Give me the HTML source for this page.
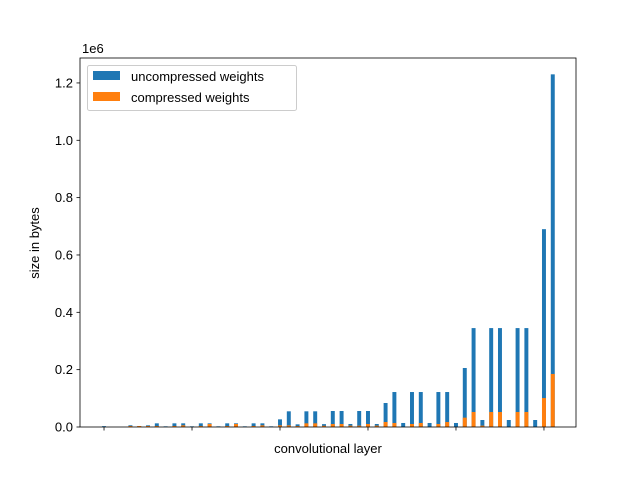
<!DOCTYPE html>
<html><head><meta charset="utf-8"><style>
body{margin:0;background:#fff;}
svg{display:block;font-family:"Liberation Sans","DejaVu Sans",sans-serif;}
</style></head><body>
<svg id="chart" width="640" height="480" viewBox="0 0 640 480">
<g id="bars"></g>
<g id="axes"></g>
<text x="82" y="53" font-size="13">1e6</text>
<text x="328" y="453" font-size="13" text-anchor="middle">convolutional layer</text>
<text transform="translate(39,243) rotate(-90)" font-size="13" text-anchor="middle">size in bytes</text>
<g>
<rect x="87.5" y="65.5" width="209" height="45" rx="2" fill="#fff" fill-opacity="0.8" stroke="#ccc"/>
<rect x="93" y="71" width="27" height="9" fill="#1f77b4"/>
<text x="131" y="81" font-size="13">uncompressed weights</text>
<rect x="93" y="92" width="27" height="9" fill="#ff7f0e"/>
<text x="131" y="102" font-size="13">compressed weights</text>
</g>
</svg>
<script>
const uncompressed = [3000,0,0,6000,3500,5800,12800,2300,12800,12800,2300,12800,12800,2300,12800,12800,2300,12800,12800,2300,26700,54700,9300,54700,54700,10000,55800,55800,10500,55800,55800,10500,83700,122000,14000,122000,122000,14000,122000,122000,14000,205800,345000,24400,345000,345000,24400,345000,345000,24400,690000,1230000];
const compressed = [0,0,0,3500,3500,3500,3500,0,3500,5800,0,3500,10500,0,3500,10500,0,3500,5800,0,5800,5800,3500,12800,12800,4200,10500,10500,4700,4700,10500,4700,17400,14000,0,10500,14000,0,10500,17400,0,32600,52300,4700,52300,52300,0,52300,52300,0,101000,185000];
const yTicks = [0,200000,400000,600000,800000,1000000,1200000];
const yTickLabels = ["0.0","0.2","0.4","0.6","0.8","1.0","1.2"];
const xTicks = [0,10,20,30,40,50];

const L=80,R=576,T=58,B=427;
const xMin=-2.73,xMax=53.64,yMax=1287000;
function xs(v){return L+(v-xMin)/(xMax-xMin)*(R-L);}
function ys(v){return B-v/yMax*(B-T);}
const NS="http://www.w3.org/2000/svg";
const bars=document.getElementById('bars'), axes=document.getElementById('axes');
const bw=0.45*(R-L)/(xMax-xMin);
function mk(tag,attrs,parent){const e=document.createElementNS(NS,tag);for(const k in attrs)e.setAttribute(k,attrs[k]);parent.appendChild(e);return e;}
uncompressed.forEach((v,i)=>{
  const r=mk('rect',{x:xs(i)-bw/2,y:ys(v),width:bw,height:B-ys(v),fill:'#1f77b4'},bars);
  
  
});
compressed.forEach((v,i)=>{
  const r=mk('rect',{x:xs(i)-bw/2,y:ys(v),width:bw,height:B-ys(v),fill:'#ff7f0e'},bars);
  
  
});
const frame=mk('rect',{x:L,y:T,width:R-L,height:B-T,fill:'none',stroke:'#000','stroke-width':0.8},axes);


yTicks.forEach((v,i)=>{
  const y=ys(v);
  const t=mk('line',{x1:L-3.5,x2:L,y1:y,y2:y,stroke:'#000','stroke-width':0.8},axes);
  
  
  const tx=mk('text',{x:L-7,y:y+4.5,'font-size':13,'text-anchor':'end'},axes);
  tx.textContent=yTickLabels[i];
  
  
});
xTicks.forEach(v=>{
  const x=xs(v);
  const t=mk('line',{x1:x,x2:x,y1:B,y2:B+3.5,stroke:'#000','stroke-width':0.8},axes);
  
  
});
</script>
</body></html>
